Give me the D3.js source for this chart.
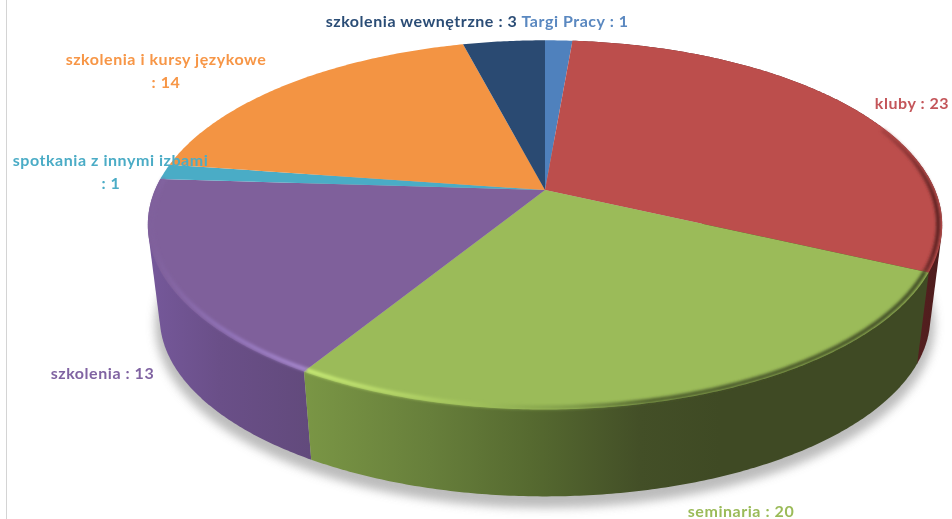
<!DOCTYPE html>
<html><head><meta charset="utf-8">
<script src="https://cdnjs.cloudflare.com/ajax/libs/d3/7.8.5/d3.min.js"></script>
<style>html,body{margin:0;padding:0;background:#fff}svg{display:block}</style>
</head><body><div id="c"></div>
<script>
const categories = ["Targi Pracy","kluby","seminaria","szkolenia","spotkania z innymi izbami","szkolenia i kursy językowe","szkolenia wewnętrzne"];
const values = [1,23,20,13,1,14,3];
const topColors = ["#4f81bd","#bc4e4c","#9bbb59","#7f609b","#4aacc6","#f39443","#2a4a72"];
const labelColors = ["#5a88c0","#c4565a","#9bbb59","#8064a2","#4bacc6","#f79646","#2c4d76"];

const W=952,H=519, cx=545, cy=190, R=390, ky=178, p=0.189;
const depth=93.5, shrink=0.97;

const svg=d3.select("#c").append("svg").attr("width",W).attr("height",H);
const defs=svg.append("defs");
function blur(id,sd){defs.append("filter").attr("id",id)
  .attr("filterUnits","userSpaceOnUse").attr("x",0).attr("y",0).attr("width",W).attr("height",H)
  .append("feGaussianBlur").attr("stdDeviation",sd);}
blur("b1",1.5);blur("b6",5);blur("bt",0.3);

function grad(id,stops){
  const g=defs.append("linearGradient").attr("id",id).attr("gradientUnits","userSpaceOnUse")
    .attr("x1",140).attr("x2",950).attr("y1",0).attr("y2",0);
  stops.forEach(([x,c])=>g.append("stop").attr("offset",(x-140)/810).attr("stop-color",c));
}
grad("sideGreen",[[305,"#7a9645"],[430,"#677f3b"],[530,"#566a30"],[640,"#434f27"],[720,"#3f4a24"],[950,"#3f4a24"]]);
grad("sidePurple",[[150,"#75589a"],[220,"#6a4f88"],[310,"#624a7c"]]);
grad("sideRed",[[900,"#5a2020"],[950,"#4a1c1c"]]);
grad("rimGreen",[[305,"#c9ec76"],[400,"#b5d668"],[480,"#9ebf5a"],[570,"#7f9c49"],[650,"#4e5f2c"],[930,"#3f4a24"]]);
grad("rimPurple",[[150,"#7f609b"],[230,"#9274ba"],[310,"#a88ad0"]]);
grad("rimRed",[[860,"#bc4e4c"],[910,"#8a3434"],[945,"#4d1c1c"]]);

const sideFill={seminaria:"url(#sideGreen)",szkolenia:"url(#sidePurple)",kluby:"url(#sideRed)"};
const rimStroke={seminaria:"url(#rimGreen)",szkolenia:"url(#rimPurple)",kluby:"url(#rimRed)"};
const sideOrder=["kluby","szkolenia","seminaria"];

// perspective projection of a point on the pie's rim
function proj(a,f=1){
  const s=1/(1+p*Math.cos(a));
  return [R*Math.sin(a)*s*f, -ky*Math.cos(a)*s*f];
}
const topPt=a=>{const q=proj(a);return [cx+q[0],cy+q[1]];};
const botPt=a=>{const q=proj(a,shrink);return [cx+q[0],cy+depth+q[1]];};
const arcs=d3.pie().sort(null).value(d=>d)(values);
const samples=(a,b)=>{const n=Math.max(2,Math.ceil((b-a)/0.01));return d3.range(n+1).map(i=>a+(b-a)*i/n);};
const line=d3.line();

// soft shadow under the pie
svg.append("path").attr("d",line(samples(0,2*Math.PI).map(botPt))+"Z")
  .attr("transform","translate(0,7)").attr("fill","#b0b0b0").attr("stroke","#b0b0b0").attr("stroke-width",9)
  .attr("filter","url(#b6)").attr("opacity",.85);

// left frame line
svg.append("line").attr("x1",6.5).attr("x2",6.5).attr("y1",0).attr("y2",H).attr("stroke","#d4d4d4");

// sides: the hull of each slice's top and bottom rim gives the true silhouette
svg.append("g").selectAll("path")
  .data(sideOrder.map(n=>arcs[categories.indexOf(n)])).join("path")
  .attr("d",d=>{
    const as=samples(d.startAngle,d.endAngle);
    return line(d3.polygonHull(as.map(topPt).concat(as.map(botPt))))+"Z";
  })
  .attr("fill",d=>sideFill[categories[d.index]]);

// top faces
svg.append("g").selectAll("path").data(arcs).join("path")
  .attr("d",d=>line([[cx,cy]].concat(samples(d.startAngle,d.endAngle).map(topPt)))+"Z")
  .attr("fill",d=>topColors[d.index]);

// bevel along the near rim
svg.append("g").selectAll("path").data(arcs.filter(d=>rimStroke[categories[d.index]])).join("path")
  .attr("d",d=>{
    const a0=Math.max(d.startAngle,1.2), a1=Math.min(d.endAngle,4.78);
    return line(samples(a0,a1).map(a=>{const q=proj(a,0.99);return [cx+q[0],cy+q[1]];}));
  })
  .attr("fill","none").attr("stroke",d=>rimStroke[categories[d.index]])
  .attr("stroke-width",4).attr("filter","url(#b1)");

// labels
const labelLines=[
  [["Targi Pracy : 1",575,27]],
  [["kluby : 23",912,109]],
  [["seminaria : 20",741,517]],
  [["szkolenia : 13",102.5,379]],
  [["spotkania z innymi izbami",110.5,166],[": 1",111,189]],
  [["szkolenia i kursy językowe",166,65],[": 14",166,88]],
  [["szkolenia wewnętrzne : 3",421.5,27]]
];
const gt=svg.append("g").attr("font-family","Lato, sans-serif").attr("font-weight",700)
  .attr("font-size",16).attr("letter-spacing",0.55).attr("text-anchor","middle").attr("filter","url(#bt)");
labelLines.forEach((ls,i)=>ls.forEach(l=>{
  gt.append("text").attr("x",l[1]).attr("y",l[2]).attr("fill",labelColors[i]).text(l[0]);
}));
</script></body></html>
